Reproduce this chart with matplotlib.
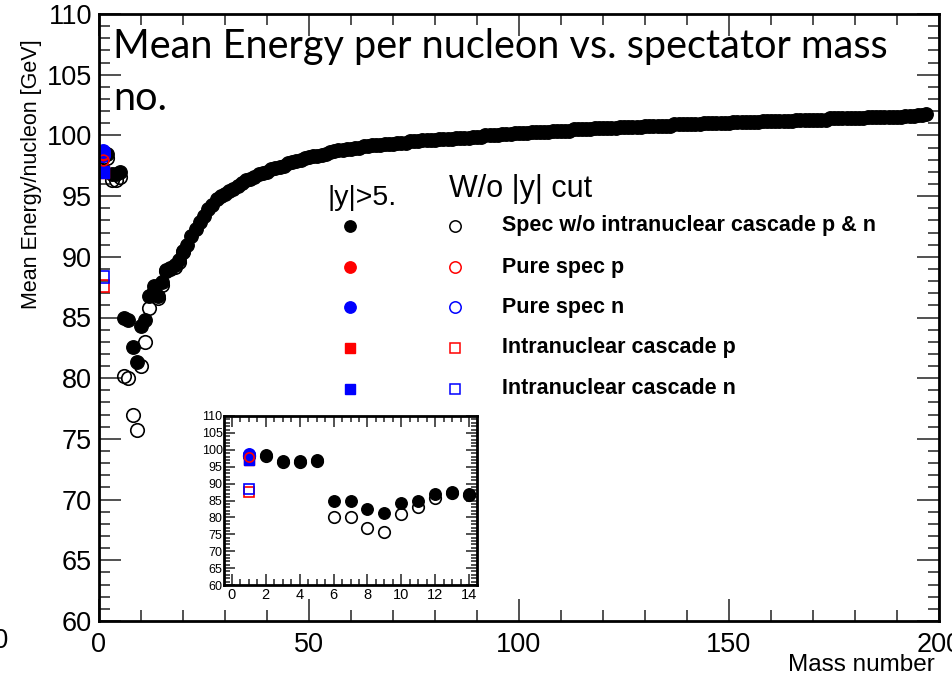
import numpy as np
import matplotlib
matplotlib.use('Agg')
from matplotlib import pyplot as plt
from matplotlib.ticker import MultipleLocator

# mass number A = 1 .. 197, |y|>5 cut, spectators w/o intranuclear cascade (p & n)
spec_cut = [
    98.5, 98.5, 96.8, 96.8, 97.0, 85.0, 84.8, 82.6, 81.3, 84.3,
    84.8, 86.8, 87.6, 86.8, 87.9, 88.9, 89.1, 89.3, 89.7, 90.5,
    91.0, 91.7, 92.3, 92.9, 93.4, 93.9, 94.3, 94.8, 95.0, 95.2,
    95.4, 95.6, 95.8, 96.1, 96.3, 96.4, 96.6, 96.8, 96.9, 97.0,
    97.2, 97.3, 97.4, 97.5, 97.7, 97.8, 97.9, 98.0, 98.1, 98.2,
    98.3, 98.3, 98.4, 98.5, 98.6, 98.7, 98.8, 98.8, 98.9, 98.9,
    99.0, 99.0, 99.1, 99.1, 99.2, 99.2, 99.2, 99.3, 99.3, 99.3,
    99.4, 99.4, 99.4, 99.5, 99.5, 99.5, 99.6, 99.6, 99.6, 99.6,
    99.7, 99.7, 99.7, 99.7, 99.8, 99.8, 99.8, 99.8, 99.9, 99.9,
    99.9, 100.0, 100.0, 100.0, 100.0, 100.1, 100.1, 100.1, 100.2, 100.2,
    100.2, 100.2, 100.3, 100.3, 100.3, 100.3, 100.3, 100.4, 100.4, 100.4,
    100.4, 100.4, 100.5, 100.5, 100.5, 100.5, 100.5, 100.6, 100.6, 100.6,
    100.6, 100.6, 100.6, 100.7, 100.7, 100.7, 100.7, 100.7, 100.7, 100.8,
    100.8, 100.8, 100.8, 100.8, 100.8, 100.8, 100.9, 100.9, 100.9, 100.9,
    100.9, 100.9, 100.9, 101.0, 101.0, 101.0, 101.0, 101.0, 101.0, 101.0,
    101.1, 101.1, 101.1, 101.1, 101.1, 101.1, 101.1, 101.2, 101.2, 101.2,
    101.2, 101.2, 101.2, 101.2, 101.2, 101.3, 101.3, 101.3, 101.3, 101.3,
    101.3, 101.3, 101.3, 101.4, 101.4, 101.4, 101.4, 101.4, 101.4, 101.4,
    101.4, 101.4, 101.5, 101.5, 101.5, 101.5, 101.5, 101.5, 101.5, 101.5,
    101.5, 101.6, 101.6, 101.6, 101.7, 101.7, 101.8,
]
mass_cut = list(range(1, len(spec_cut) + 1))

# without |y| cut, only the part that is not hidden behind the filled points
spec_nocut = [
    98.2, 98.1, 96.3, 96.3, 96.6, 80.2, 80.0, 77.0, 75.7, 81.0,
    83.0, 85.8, 87.2, 86.6, 87.7, 88.8, 89.0, 89.2, 89.6, 90.4,
]
mass_nocut = list(range(1, len(spec_nocut) + 1))

# A = 1 only: pure spectator and intranuclear cascade nucleons
pure_p_cut, pure_p_nocut = 98.5, 98.0
pure_n_cut, pure_n_nocut = 98.7, 98.4
casc_p_cut, casc_p_nocut = 97.0, 87.6
casc_n_cut, casc_n_nocut = 97.0, 88.3

legend_labels = ['Spec w/o intranuclear cascade p & n', 'Pure spec p', 'Pure spec n',
                 'Intranuclear cascade p', 'Intranuclear cascade n']
legend_colors = ['black', 'red', 'blue', 'red', 'blue']
legend_markers = ['o', 'o', 'o', 's', 's']

W, H = 952, 679
RED = '#ff0000'
BLUE = '#0000ff'


def draw_points(ax, ms):
    ax.plot(mass_nocut, spec_nocut, 'o', ms=ms, mfc='none', mec='k', mew=1.2)
    ax.plot(mass_cut, spec_cut, 'o', ms=ms, color='k')
    sq = ms * 0.85
    ax.plot([1], [casc_p_cut], 's', ms=sq, color=RED)
    ax.plot([1], [casc_n_cut], 's', ms=sq, color=BLUE)
    ax.plot([1], [casc_p_nocut], 's', ms=sq, mfc='none', mec=RED, mew=1.2)
    ax.plot([1], [casc_n_nocut], 's', ms=sq, mfc='none', mec=BLUE, mew=1.2)
    ax.plot([1], [pure_p_cut], 'o', ms=ms, color=RED)
    ax.plot([1], [pure_n_cut], 'o', ms=ms, color=BLUE)
    ax.plot([1], [pure_n_nocut], 'o', ms=ms, mfc='none', mec=BLUE, mew=1.2)
    ax.plot([1], [pure_p_nocut], 'o', ms=ms * 0.8, mfc='none', mec=RED, mew=1.2)


def root_frame(ax, lw, major, minor):
    for s in ax.spines.values():
        s.set_linewidth(lw)
    ax.tick_params(which='both', direction='in', top=True, right=True, colors='#333333',
                   labelcolor='black', width=1.2)
    ax.tick_params(which='major', length=major)
    ax.tick_params(which='minor', length=minor)


plt.rcParams['font.family'] = ['Liberation Sans', 'DejaVu Sans']
fig = plt.figure(figsize=(W / 100, H / 100), dpi=100)

# main frame
ax = fig.add_axes([99 / W, 1 - 621 / H, (939 - 99) / W, (621 - 14) / H])
draw_points(ax, 9.7)
ax.set_xlim(0, 200)
ax.set_ylim(60, 110)
ax.xaxis.set_major_locator(MultipleLocator(50))
ax.xaxis.set_minor_locator(MultipleLocator(10))
ax.yaxis.set_major_locator(MultipleLocator(5))
ax.yaxis.set_minor_locator(MultipleLocator(1))
root_frame(ax, 2, 16, 8)
ax.tick_params(axis='both', labelsize=19.5)
ax.tick_params(axis='x', pad=8)
ax.tick_params(axis='y', pad=5)

fig.text(32 / W, 1 - 174 / H, 'Mean Energy/nucleon [GeV]', rotation=90, fontsize=15.5,
         ha='center', va='center')
fig.text(935 / W, 1 - 671 / H, 'Mass number', fontsize=17.5, ha='right', va='baseline')
fig.text(9 / W, 1 - 648 / H, '100', fontsize=19.5, ha='right', va='baseline')

# overlay title typed on the slide
fig.text(113 / W, 1 - 58 / H, 'Mean Energy per nucleon vs. spectator mass',
         family='Lato', fontsize=28.5, va='baseline')
fig.text(113 / W, 1 - 110 / H, 'no.', family='Lato', fontsize=28.5, va='baseline')

# legend drawn on a pixel-space overlay
lg = fig.add_axes([0, 0, 1, 1], facecolor='none')
lg.set_xlim(0, W)
lg.set_ylim(H, 0)
lg.axis('off')
lg.text(327, 205, '|y|>5.', fontsize=20.5, va='baseline')
lg.text(449, 197, 'W/o |y| cut', fontsize=22, va='baseline')
row_y = [226, 267, 307, 348, 389]
for y, lab, c, m in zip(row_y, legend_labels, legend_colors, legend_markers):
    ms = 8.2 if m == 'o' else 7.5
    lg.plot([350], [y], m, ms=ms, color=c)
    lg.plot([455], [y], m, ms=ms, mfc='none', mec=c, mew=1.1)
    lg.text(502, y, lab, fontsize=15.5, fontweight='bold', va='center')

# zoom on the light fragments
ins = fig.add_axes([224 / W, 1 - 585 / H, (477 - 224) / W, (585 - 416) / H])
draw_points(ins, 8.3)
ins.set_xlim(-0.45, 14.45)
ins.set_ylim(60, 110)
ins.xaxis.set_major_locator(MultipleLocator(2))
ins.xaxis.set_minor_locator(MultipleLocator(0.5))
ins.yaxis.set_major_locator(MultipleLocator(5))
ins.yaxis.set_minor_locator(MultipleLocator(1))
root_frame(ins, 2, 8, 4)
ins.tick_params(axis='x', labelsize=10.5, pad=2)
ins.tick_params(axis='y', labelsize=9, pad=1)

fig.savefig('out.png', dpi=100)
